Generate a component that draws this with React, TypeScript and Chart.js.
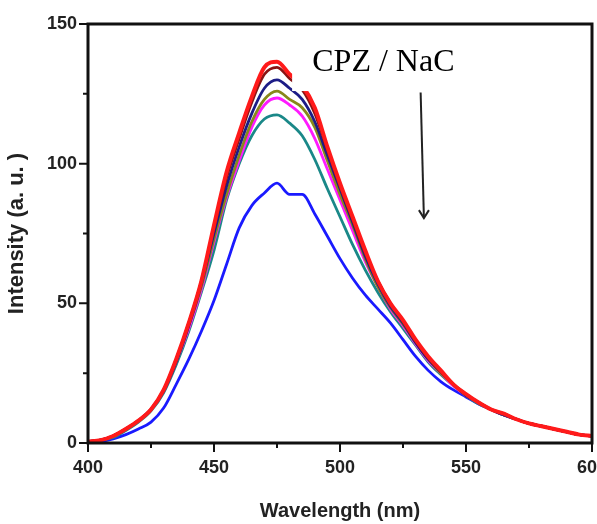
import React, { useEffect, useRef } from "react";
import { Chart, registerables } from "chart.js";

Chart.register(...registerables);

// wavelength grid (nm)
const wavelengths = [
  400, 405, 410, 415, 420, 425, 430, 435, 440, 445, 450, 455, 460, 465, 470, 475, 480, 485, 490, 495, 500,
  505, 510, 515, 520, 525, 530, 535, 540, 545, 550, 555, 560, 565, 570, 575, 580, 585, 590, 595, 600,
];

// emission intensities (a. u.)
const redSeries = [
  0.5, 1, 2.5, 5, 8, 12, 19, 30, 43, 58, 78, 97, 111, 124, 134.5, 136.5, 132, 128, 120, 106, 93,
  81, 69, 58, 50, 44, 37, 31, 26, 21, 17.5, 14.5, 12, 10.5, 8.5, 7, 6, 5, 4, 3, 2.5,
];
const brownSeries = [
  0.5, 1, 2.5, 5, 8, 12, 19, 30, 43, 58, 77, 95, 109, 122, 132, 134.5, 130.5, 126.5, 118, 105, 92,
  80, 68, 58, 50, 43.5, 36.5, 30.5, 25.5, 21, 17.5, 14.5, 12, 10.5, 8.5, 7, 6, 5, 4, 3, 2.5,
];
const navySeries = [
  0.5, 1, 2.5, 5, 8, 12, 18.5, 29, 42, 57, 75, 92, 106, 118, 127, 130, 127, 123, 115, 103, 91,
  79, 67, 57, 49, 43, 36, 30, 25.5, 21, 17, 14.5, 12, 10, 8.5, 7, 6, 5, 4, 3, 2.5,
];
const oliveSeries = [
  0.5, 1, 2.5, 5, 8, 12, 18.5, 29, 42, 56, 73, 89, 103, 115, 123, 126, 123, 120, 113, 101, 89,
  78, 66, 56, 48.5, 42.5, 36, 30, 25, 21, 17, 14.5, 12, 10, 8.5, 7, 6, 5, 4, 3, 2.5,
];
const magentaSeries = [
  0.5, 1, 2.5, 5, 8, 12, 18.5, 29, 41, 55, 72, 88, 101, 113, 121, 123.5, 121, 117, 109, 98, 87,
  76, 65, 56, 48, 42, 35.5, 29.5, 25, 20.5, 17, 14.5, 12, 10, 8.5, 7, 6, 5, 4, 3, 2.5,
];
const tealSeries = [
  0.5, 1, 2, 4.5, 7.5, 11.5, 18, 28, 40, 54, 69, 87, 100, 110, 116, 117.5, 114.5, 110, 101.5, 91, 81,
  71, 62, 54, 47, 41, 35, 29, 24.5, 20.5, 17, 14, 12, 10, 8.5, 7, 6, 5, 4, 3, 2.5,
];
const blueSeries = [
  0, 0.5, 1.5, 3, 5, 7.5, 12.5, 21, 30, 40, 51, 64, 77, 85, 89.5, 93, 89, 89, 82, 74, 66,
  59, 53, 48, 43, 37, 31, 26, 22, 19, 16.5, 14, 12, 10, 8.5, 7, 6, 5, 4, 3, 2.5,
];

const xTicks = [400, 450, 500, 550, 600];
const yTicks = [0, 50, 100, 150];

const sansFont = "'Liberation Sans', Arial, sans-serif";

const series = [
  { name: "red", data: redSeries, color: "#ff1a1a", width: 4 },
  { name: "brown", data: brownSeries, color: "#8a1414", width: 2.8 },
  { name: "navy", data: navySeries, color: "#1c1c86", width: 2.8 },
  { name: "olive", data: oliveSeries, color: "#88881a", width: 2.8 },
  { name: "magenta", data: magentaSeries, color: "#ff1aff", width: 2.8 },
  { name: "teal", data: tealSeries, color: "#1a8888", width: 2.8 },
  { name: "blue", data: blueSeries, color: "#1a1aff", width: 2.8 },
];

// frame, tick marks, the white label box with "CPZ / NaC" and the arrow
const framePlugin = {
  id: "frameAndNotes",
  afterDraw(chart: any) {
    const { ctx, chartArea: a, scales } = chart;
    const xs = scales.x;
    const ys = scales.y;
    ctx.save();

    // label box hides the curves behind it
    const bx = xs.getPixelForValue(481);
    const by = ys.getPixelForValue(126);
    ctx.fillStyle = "#fff";
    ctx.fillRect(bx, a.top, 200, by - a.top);

    ctx.fillStyle = "#000";
    ctx.font = "32px 'Liberation Serif', 'Times New Roman', serif";
    ctx.textBaseline = "alphabetic";
    ctx.fillText("CPZ / NaC", xs.getPixelForValue(489), ys.getPixelForValue(133));

    // arrow
    const x1 = xs.getPixelForValue(532);
    const y1 = ys.getPixelForValue(125.5);
    const x2 = xs.getPixelForValue(533.3);
    const y2 = ys.getPixelForValue(80.5);
    ctx.strokeStyle = "#222";
    ctx.lineWidth = 2;
    ctx.beginPath();
    ctx.moveTo(x1, y1);
    ctx.lineTo(x2, y2);
    ctx.stroke();
    ctx.beginPath();
    ctx.moveTo(x2 - 5, y2 - 8);
    ctx.lineTo(x2, y2);
    ctx.lineTo(x2 + 5, y2 - 8);
    ctx.stroke();

    // frame
    ctx.strokeStyle = "#111";
    ctx.lineWidth = 3;
    ctx.strokeRect(a.left, a.top, a.right - a.left, a.bottom - a.top);

    // outward ticks, minor every 25
    ctx.lineWidth = 2;
    ctx.beginPath();
    for (let v = 400; v <= 600; v += 25) {
      const px = xs.getPixelForValue(v);
      const len = v % 50 === 0 ? 9 : 5;
      ctx.moveTo(px, a.bottom);
      ctx.lineTo(px, a.bottom + len);
    }
    for (let v = 0; v <= 150; v += 25) {
      const py = ys.getPixelForValue(v);
      const len = v % 50 === 0 ? 9 : 5;
      ctx.moveTo(a.left, py);
      ctx.lineTo(a.left - len, py);
    }
    ctx.stroke();
    ctx.restore();
  },
};

const SpectraChart: React.FC = () => {
  const chartRef = useRef<HTMLCanvasElement>(null);
  const chartInstance = useRef<Chart | null>(null);

  useEffect(() => {
    if (!chartRef.current) return;
    const ctx = chartRef.current.getContext("2d");
    if (!ctx) return;
    if (chartInstance.current) {
      chartInstance.current.destroy();
    }
    chartInstance.current = new Chart(ctx, {
      type: "line",
      data: {
        datasets: series.map((s) => ({
          label: s.name,
          data: wavelengths.map((w, i) => ({ x: w, y: s.data[i] })),
          borderColor: s.color,
          borderWidth: s.width,
          pointRadius: 0,
          cubicInterpolationMode: "monotone",
          fill: false,
        })),
      },
      options: {
        responsive: false,
        animation: false,
        layout: { padding: { left: 0, right: 48, top: 24, bottom: 0 } },
        plugins: {
          legend: { display: false },
          tooltip: { enabled: false },
        },
        scales: {
          x: {
            type: "linear",
            min: 400,
            max: 600,
            afterBuildTicks: (scale: any) => {
              scale.ticks = xTicks.map((v) => ({ value: v }));
            },
            afterFit: (scale: any) => {
              scale.height = 81;
            },
            grid: { display: true, drawOnChartArea: false, tickLength: 8, tickColor: "transparent" },
            border: { display: false },
            ticks: {
              padding: 6,
              color: "#222",
              maxRotation: 0,
              font: { family: sansFont, size: 18, weight: "bold" },
            },
            title: {
              display: true,
              text: "Wavelength (nm)",
              color: "#222",
              padding: { top: 0, bottom: 1 },
              font: { family: sansFont, size: 20, weight: "bold", lineHeight: 1.2 },
            },
          },
          y: {
            type: "linear",
            min: 0,
            max: 150,
            afterBuildTicks: (scale: any) => {
              scale.ticks = yTicks.map((v) => ({ value: v }));
            },
            afterFit: (scale: any) => {
              scale.width = 88;
            },
            grid: { display: true, drawOnChartArea: false, tickLength: 8, tickColor: "transparent" },
            border: { display: false },
            ticks: {
              padding: 3,
              color: "#222",
              font: { family: sansFont, size: 18, weight: "bold" },
            },
            title: {
              display: true,
              text: "Intensity (a. u. )",
              color: "#222",
              padding: { top: 4, bottom: 0 },
              font: { family: sansFont, size: 22, weight: "bold", lineHeight: 1.2 },
            },
          },
        },
      },
      plugins: [framePlugin],
    } as any);

    return () => {
      if (chartInstance.current) {
        chartInstance.current.destroy();
        chartInstance.current = null;
      }
    };
  }, []);

  return (
    <div
      style={{
        position: "fixed",
        left: 0,
        top: 0,
        width: 597,
        height: 524,
        overflow: "hidden",
        background: "#fff",
      }}
    >
      <canvas ref={chartRef} width={640} height={524} style={{ display: "block" }} />
    </div>
  );
};

export default function App() {
  return <SpectraChart />;
}
